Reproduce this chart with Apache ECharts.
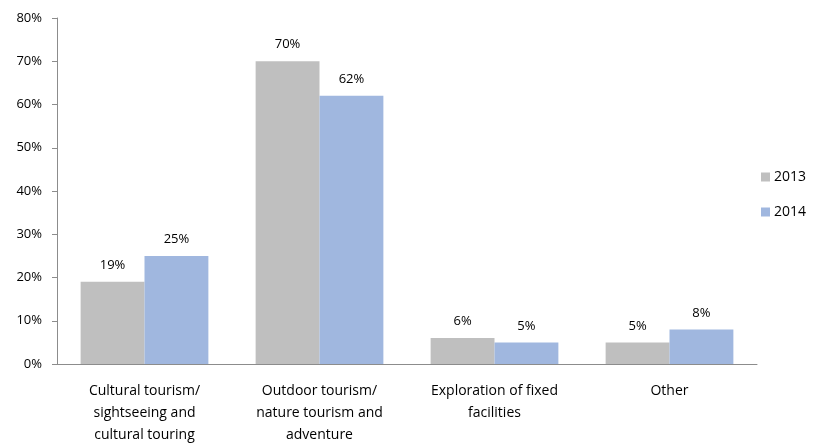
<!DOCTYPE html>
<html>
<head>
<meta charset="utf-8">
<script src="https://cdn.jsdelivr.net/npm/echarts@6/dist/echarts.min.js"></script>
<style>
  html, body { margin: 0; padding: 0; background: #fff; }
  #chart { width: 815px; height: 443px; }
</style>
</head>
<body>
<div id="chart"></div>
<script>
// Trip purpose shares by year
const categories = [
  'Cultural tourism/\nsightseeing and\ncultural touring',
  'Outdoor tourism/\nnature tourism and\nadventure',
  'Exploration of fixed\nfacilities',
  'Other'
];
const years = ['2013', '2014'];
const values2013 = [19, 70, 6, 5];
const values2014 = [25, 62, 5, 8];
const yTicks = { min: 0, max: 80, interval: 10 };

const fontFamily = '"Open Sans", "Noto Sans", "Liberation Sans", sans-serif';
const colors = ['#bfbfbf', '#a0b7df'];

const chart = echarts.init(document.getElementById('chart'), null, { renderer: 'canvas' });

function barSeries(name, data, color) {
  return {
    name: name,
    type: 'bar',
    data: data,
    barGap: '0%',
    barCategoryGap: '27%',
    itemStyle: { color: color },
    label: {
      show: true,
      position: 'top',
      distance: 10,
      formatter: p => p.value + '%',
      color: '#000',
      fontFamily: fontFamily,
      fontSize: 13
    }
  };
}

chart.setOption({
  animation: false,
  backgroundColor: '#fff',
  grid: { left: 57, right: 58, top: 18, bottom: 79, containLabel: false, outerBoundsMode: 'none' },
  legend: {
    orient: 'vertical',
    left: 756,
    top: 165,
    itemWidth: 9,
    itemHeight: 9,
    itemGap: 21,
    itemStyle: { borderWidth: 0 },
    icon: 'rect',
    data: years,
    textStyle: { color: '#000', fontFamily: fontFamily, fontSize: 14, padding: [0, 0, 0, -1] }
  },
  xAxis: {
    type: 'category',
    data: categories,
    axisLine: { show: true, lineStyle: { color: '#8c8c8c', width: 1 } },
    axisTick: { show: false },
    axisLabel: {
      interval: 0,
      color: '#000',
      fontFamily: fontFamily,
      fontSize: 14,
      lineHeight: 22,
      margin: 16
    }
  },
  yAxis: {
    type: 'value',
    min: yTicks.min,
    max: yTicks.max,
    interval: yTicks.interval,
    axisLine: { show: true, lineStyle: { color: '#8c8c8c', width: 1 } },
    axisTick: { show: true, length: 5, lineStyle: { color: '#8c8c8c' } },
    splitLine: { show: false },
    axisLabel: {
      formatter: v => v + '%',
      color: '#000',
      fontFamily: fontFamily,
      fontSize: 13,
      margin: 15
    }
  },
  series: [
    barSeries(years[0], values2013, colors[0]),
    barSeries(years[1], values2014, colors[1])
  ]
});
</script>
</body>
</html>
